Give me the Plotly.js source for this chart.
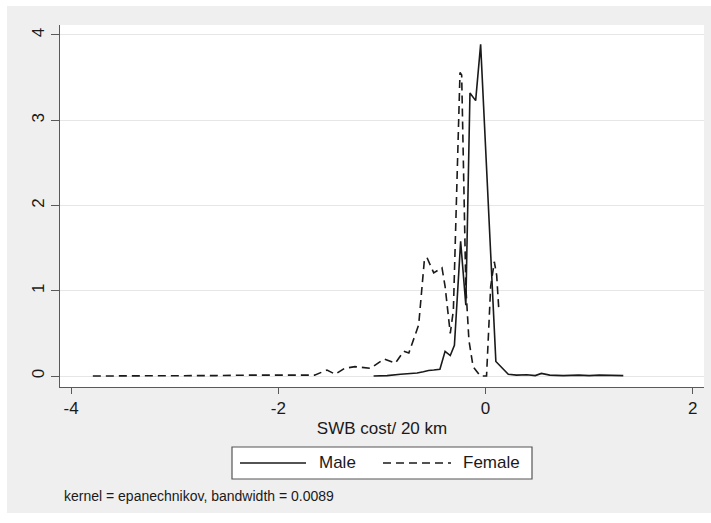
<!DOCTYPE html>
<html>
<head>
<meta charset="utf-8">
<script src="https://cdn.plot.ly/plotly-3.0.1.min.js"></script>
<style>html,body{margin:0;padding:0;background:#fff;}#chart{width:711px;height:523px;}</style>
</head>
<body>
<div id="chart"></div>
<script>
// Kernel density estimates
var maleX = [-1.08, -0.95, -0.82, -0.72, -0.66, -0.60, -0.55, -0.50, -0.44, -0.39, -0.34, -0.30, -0.24, -0.19, -0.15, -0.095, -0.047, 0.10, 0.14, 0.22, 0.30, 0.40, 0.48, 0.54, 0.62, 0.75, 0.90, 1.00, 1.10, 1.20, 1.33];
var maleY = [0.00, 0.005, 0.02, 0.025, 0.035, 0.05, 0.065, 0.07, 0.08, 0.29, 0.24, 0.36, 1.58, 0.83, 3.32, 3.23, 3.89, 0.17, 0.12, 0.02, 0.01, 0.015, 0.005, 0.03, 0.01, 0.005, 0.01, 0.005, 0.01, 0.005, 0.005];
var femaleX = [-3.79, -3.5, -3.2, -2.9, -2.6, -2.3, -2.0, -1.8, -1.65, -1.58, -1.53, -1.45, -1.36, -1.26, -1.18, -1.11, -0.98, -0.87, -0.79, -0.74, -0.645, -0.59, -0.565, -0.50, -0.42, -0.39, -0.34, -0.31, -0.246, -0.23, -0.19, -0.16, -0.12, -0.05, 0.01, 0.05, 0.085, 0.108, 0.13];
var femaleY = [0.0, 0.0, 0.005, 0.005, 0.005, 0.01, 0.005, 0.01, 0.01, 0.04, 0.07, 0.02, 0.09, 0.11, 0.10, 0.09, 0.20, 0.15, 0.29, 0.27, 0.60, 1.36, 1.39, 1.21, 1.27, 1.05, 0.50, 0.77, 3.56, 3.53, 1.05, 0.42, 0.11, 0.0, 0.0, 1.05, 1.34, 1.18, 0.75];
var seriesNames = ['Male', 'Female'];
var xTicks = [-4, -2, 0, 2];
var yTicks = [0, 1, 2, 3, 4];
var xTitle = 'SWB cost/ 20 km';
var noteText = 'kernel = epanechnikov, bandwidth = 0.0089';

var FONT = 'Liberation Sans, Arial, sans-serif';
var DASH = '8px,5px';

// plot area in pixels: x 60..704, y 25..387
function px(x) { return (x - 60) / 644; }
function py(y) { return (387 - y) / 362; }

var traces = [
  {x: maleX, y: maleY, type: 'scatter', mode: 'lines', name: seriesNames[0],
   line: {color: '#1a1a1a', width: 1.6, dash: 'solid'}, showlegend: false},
  {x: femaleX, y: femaleY, type: 'scatter', mode: 'lines', name: seriesNames[1],
   line: {color: '#1a1a1a', width: 1.6, dash: DASH}, showlegend: false}
];

var shapes = [
  // white outer border strips
  {type: 'rect', xref: 'paper', yref: 'paper', x0: px(-5), x1: px(7), y0: py(-5), y1: py(530), fillcolor: '#ffffff', line: {width: 0}, layer: 'below'},
  {type: 'rect', xref: 'paper', yref: 'paper', x0: px(-5), x1: px(720), y0: py(-5), y1: py(6), fillcolor: '#ffffff', line: {width: 0}, layer: 'below'},
  {type: 'rect', xref: 'paper', yref: 'paper', x0: px(-5), x1: px(720), y0: py(513), y1: py(530), fillcolor: '#ffffff', line: {width: 0}, layer: 'below'},
  // legend box
  {type: 'rect', xref: 'paper', yref: 'paper', x0: px(232), x1: px(532), y0: py(479), y1: py(447), fillcolor: '#ffffff', line: {color: '#555555', width: 1.2}},
  {type: 'line', xref: 'paper', yref: 'paper', x0: px(240), x1: px(306), y0: py(463), y1: py(463), line: {color: '#1a1a1a', width: 1.6}},
  {type: 'line', xref: 'paper', yref: 'paper', x0: px(383), x1: px(451), y0: py(463), y1: py(463), line: {color: '#1a1a1a', width: 1.6, dash: DASH}}
];

var annotations = [
  {xref: 'paper', yref: 'paper', x: px(317), y: py(463), xanchor: 'left', yanchor: 'middle', text: seriesNames[0], showarrow: false, font: {family: FONT, size: 17, color: '#1a1a1a'}},
  {xref: 'paper', yref: 'paper', x: px(461), y: py(463), xanchor: 'left', yanchor: 'middle', text: seriesNames[1], showarrow: false, font: {family: FONT, size: 17, color: '#1a1a1a'}},
  {xref: 'paper', yref: 'paper', x: px(62), y: py(496), xanchor: 'left', yanchor: 'middle', text: noteText, showarrow: false, font: {family: FONT, size: 14, color: '#1a1a1a'}}
];

var layout = {
  width: 711, height: 523,
  margin: {l: 60, r: 7, t: 25, b: 136, pad: 0},
  paper_bgcolor: '#efefef',
  plot_bgcolor: '#ffffff',
  font: {family: FONT, size: 17, color: '#1a1a1a'},
  showlegend: false,
  xaxis: {
    range: [-4.107, 2.109], tickmode: 'array', tickvals: xTicks, ticktext: xTicks.map(String),
    ticks: 'outside', ticklen: 6, tickwidth: 1, tickcolor: '#595959',
    showline: true, linecolor: '#595959', linewidth: 1, showgrid: false, zeroline: false,
    tickfont: {family: FONT, size: 17, color: '#1a1a1a'},
    title: {text: xTitle, font: {family: FONT, size: 17, color: '#1a1a1a'}, standoff: 4},
    automargin: false, fixedrange: true
  },
  yaxis: {
    range: [-0.129, 4.117], tickmode: 'array', tickvals: yTicks, ticktext: yTicks.map(String),
    ticks: 'outside', ticklen: 8, tickwidth: 1, tickcolor: '#595959', tickangle: -90,
    showline: true, linecolor: '#595959', linewidth: 1, showgrid: true, gridcolor: '#e6e6e6', gridwidth: 1, zeroline: false,
    tickfont: {family: FONT, size: 17, color: '#1a1a1a'},
    automargin: false, fixedrange: true
  },
  shapes: shapes,
  annotations: annotations
};

Plotly.newPlot('chart', traces, layout, {displayModeBar: false, staticPlot: true});
</script>
</body>
</html>
